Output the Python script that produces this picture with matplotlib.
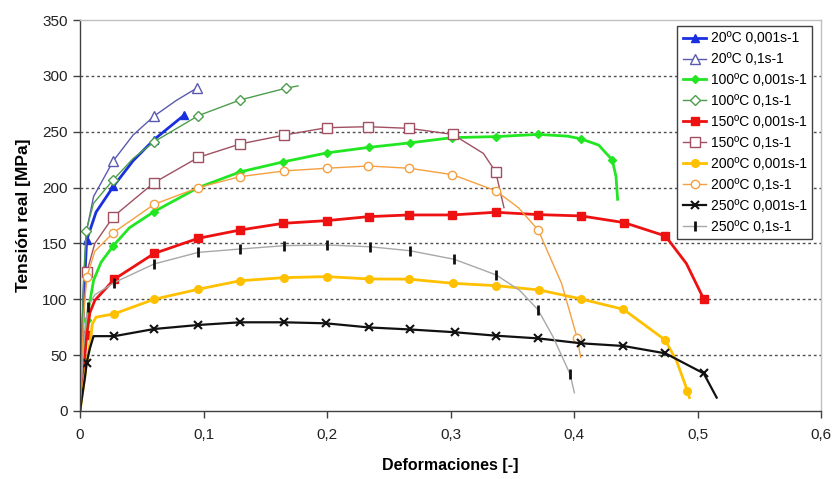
import matplotlib
matplotlib.use("Agg")
import matplotlib.pyplot as plt
from matplotlib.ticker import FixedLocator

plt.rcParams['font.family'] = ['Liberation Sans', 'DejaVu Sans']

# ---------------- data ----------------
labels = ["20ºC 0,001s-1", "20ºC 0,1s-1", "100ºC 0,001s-1", "100ºC 0,1s-1",
          "150ºC 0,001s-1", "150ºC 0,1s-1", "200ºC 0,001s-1", "200ºC 0,1s-1",
          "250ºC 0,001s-1", "250ºC 0,1s-1"]

x_20_slow = [0, 0.003, 0.0054, 0.013, 0.027, 0.043, 0.060, 0.0845]
y_20_slow = [0, 100, 153, 178, 201, 224, 243, 265]
m_20_slow = [2, 4, 6, 7]

x_20_fast = [0, 0.003, 0.006, 0.011, 0.027, 0.043, 0.060, 0.078, 0.0945]
y_20_fast = [0, 120, 165, 192, 224, 247, 264, 278, 289]
m_20_fast = [4, 6, 8]

x_100_slow = [0, 0.004, 0.0054, 0.011, 0.017, 0.027, 0.040, 0.060, 0.0958, 0.1296, 0.1646,
              0.1997, 0.234, 0.267, 0.3015, 0.3365, 0.371, 0.395, 0.406, 0.420, 0.431, 0.434, 0.4353]
y_100_slow = [0, 60, 81.5, 117, 133, 148, 164, 178.5, 200, 214, 223,
              231, 236, 240, 244.7, 245.6, 247.6, 246, 243.5, 238, 224.7, 210, 189.5]
m_100_slow = [2, 5, 7, 8, 9, 10, 11, 12, 13, 14, 15, 16, 18, 20]

x_100_fast = [0, 0.003, 0.0049, 0.011, 0.027, 0.043, 0.060, 0.0958, 0.1296, 0.1668, 0.1765]
y_100_fast = [0, 120, 161, 186, 207, 226, 241, 264.4, 278.4, 289, 291]
m_100_fast = [2, 4, 6, 7, 8, 9]

x_150_slow = [0, 0.004, 0.0054, 0.008, 0.012, 0.0278, 0.060, 0.0958, 0.1296, 0.1646, 0.1997,
              0.234, 0.2667, 0.3015, 0.3365, 0.371, 0.406, 0.4407, 0.474, 0.491, 0.505]
y_150_slow = [0, 50, 68, 88, 99, 118, 141, 154.6, 162, 168, 170.4,
              174, 175.5, 175.5, 177.9, 175.8, 174.6, 168.6, 156.7, 132, 100.3]
m_150_slow = [2, 5, 6, 7, 8, 9, 10, 11, 12, 13, 14, 15, 16, 17, 18, 20]

x_150_fast = [0, 0.003, 0.0054, 0.012, 0.027, 0.060, 0.0958, 0.1296, 0.1654, 0.1997,
              0.2334, 0.2667, 0.3017, 0.3266, 0.3366, 0.3433]
y_150_fast = [0, 90, 124, 150, 174, 204.4, 227, 239, 247, 253.6,
              254.5, 253, 247.6, 230.6, 214, 182]
m_150_fast = [2, 4, 5, 6, 7, 8, 9, 10, 11, 12, 14]

x_200_slow = [0, 0.005, 0.008, 0.010, 0.013, 0.0278, 0.060, 0.0958, 0.1296, 0.1654, 0.1997,
              0.234, 0.2667, 0.3017, 0.3368, 0.372, 0.4057, 0.440, 0.4737, 0.483, 0.4918, 0.4934]
y_200_slow = [0, 40, 60, 78, 84, 87, 100, 109, 116.6, 119.4, 120.3,
              118.2, 118, 114.3, 112.2, 108.3, 100.3, 91, 63.6, 45, 18.2, 12]
m_200_slow = [5, 6, 7, 8, 9, 10, 11, 12, 13, 14, 15, 16, 17, 18, 20]

x_200_fast = [0, 0.003, 0.0054, 0.012, 0.027, 0.060, 0.0958, 0.1296, 0.1654, 0.1997, 0.2334,
              0.2667, 0.3015, 0.3366, 0.355, 0.371, 0.390, 0.4027, 0.4054]
y_200_fast = [0, 85, 119.6, 143, 159.6, 185, 200, 209.8, 214.9, 217.3, 219.3,
              217.3, 211.6, 197.2, 182, 162, 114, 65, 48]
m_200_fast = [2, 4, 5, 6, 7, 8, 9, 10, 11, 12, 13, 15, 17]

x_250_slow = [0, 0.004, 0.0054, 0.008, 0.011, 0.0278, 0.060, 0.0958, 0.1296, 0.165, 0.199,
              0.234, 0.267, 0.3036, 0.337, 0.371, 0.4057, 0.440, 0.474, 0.505, 0.5155]
y_250_slow = [0, 30, 43, 56, 67, 67, 73.4, 77, 79.4, 79.4, 78.5,
              74.8, 73, 70.5, 67.4, 65, 60.6, 58.2, 51.6, 33.7, 12]
m_250_slow = [2, 5, 6, 7, 8, 9, 10, 11, 12, 13, 14, 15, 16, 17, 18, 19]

x_250_fast = [0, 0.003, 0.0062, 0.012, 0.0278, 0.060, 0.0958, 0.1296, 0.1654, 0.200, 0.235,
              0.267, 0.303, 0.337, 0.356, 0.371, 0.383, 0.3968, 0.4003]
y_250_fast = [0, 60, 93, 104, 115, 131.6, 142, 145, 148, 148.6, 147,
              143.5, 135.8, 121.8, 108, 90.4, 66.5, 33, 16.4]
m_250_fast = [2, 4, 5, 6, 7, 8, 9, 10, 11, 12, 13, 15, 17]

x_ticks = [0, 0.1, 0.2, 0.3, 0.4, 0.5, 0.6]
x_tick_labels = ["0", "0,1", "0,2", "0,3", "0,4", "0,5", "0,6"]
y_ticks = [0, 50, 100, 150, 200, 250, 300, 350]

# ---------------- styles ----------------
series = [
    (x_20_slow, y_20_slow, m_20_slow, dict(color='#1a2fe0', lw=2.0, marker='^', ms=6, mfc='#1a2fe0', mec='#1a2fe0')),
    (x_20_fast, y_20_fast, m_20_fast, dict(color='#5a5ab0', lw=1.0, marker='^', ms=6.5, mfc='white', mec='#5a5ab0', mew=1.0)),
    (x_100_slow, y_100_slow, m_100_slow, dict(color='#22e622', lw=2.0, marker='D', ms=4.5, mfc='#22e622', mec='#22e622')),
    (x_100_fast, y_100_fast, m_100_fast, dict(color='#4c9e4c', lw=1.0, marker='D', ms=5, mfc='white', mec='#4c9e4c', mew=1.0)),
    (x_150_slow, y_150_slow, m_150_slow, dict(color='#ee1111', lw=2.0, marker='s', ms=6, mfc='#ee1111', mec='#ee1111')),
    (x_150_fast, y_150_fast, m_150_fast, dict(color='#a05060', lw=1.0, marker='s', ms=6.5, mfc='white', mec='#a05060', mew=1.0)),
    (x_200_slow, y_200_slow, m_200_slow, dict(color='#ffc000', lw=2.0, marker='o', ms=5.5, mfc='#ffc000', mec='#ffc000')),
    (x_200_fast, y_200_fast, m_200_fast, dict(color='#f5a040', lw=1.0, marker='o', ms=6, mfc='white', mec='#f5a040', mew=1.0)),
    (x_250_slow, y_250_slow, m_250_slow, dict(color='#111111', lw=1.6, marker='x', ms=5.5, mfc='#111111', mec='#111111', mew=1.5)),
    (x_250_fast, y_250_fast, m_250_fast, dict(color='#a8a8a8', lw=1.0, marker='|', ms=7, mfc='#111111', mec='#111111', mew=2.0)),
]

fig = plt.figure(figsize=(8.35, 4.79), dpi=100)
ax = fig.add_axes([80/835, 1 - 411/479, (821-80)/835, (411-20)/479])

for (xs, ys, mk, st), lab in zip(series, labels):
    ax.plot(xs, ys, markevery=mk, label=lab, **st)

ax.set_xlim(0, 0.6)
ax.set_ylim(0, 350)
ax.xaxis.set_major_locator(FixedLocator(x_ticks))
ax.set_xticklabels(x_tick_labels)
ax.yaxis.set_major_locator(FixedLocator(y_ticks))

for yv in y_ticks[1:-1]:
    ax.axhline(yv, color='#505050', lw=1.0, ls=(0, (2, 2)), zorder=0.5)

for s in ['left', 'bottom']:
    ax.spines[s].set_color('#404040')
    ax.spines[s].set_linewidth(1.0)
for s in ['top', 'right']:
    ax.spines[s].set_color('#c0c0c0')
    ax.spines[s].set_linewidth(1.0)

ax.tick_params(axis='both', direction='out', length=5, width=1, color='#404040',
               labelsize=11, labelcolor='#222222')
ax.tick_params(axis='x', pad=7)
ax.tick_params(axis='y', pad=4)

ax.set_xlabel("Deformaciones [-]", fontsize=11.5, fontweight='bold', labelpad=12)
ax.set_ylabel("Tensión real [MPa]", fontsize=12.5, fontweight='bold', labelpad=8)

leg = ax.legend(loc='upper right', bbox_to_anchor=(0.988, 0.985), fontsize=10,
                frameon=True, fancybox=False, edgecolor='#404040', framealpha=1,
                handlelength=1.7, handletextpad=0.3, labelspacing=0.5,
                borderpad=0.4, borderaxespad=0)
leg.get_frame().set_linewidth(1.0)

fig.savefig("out.png", dpi=100)
